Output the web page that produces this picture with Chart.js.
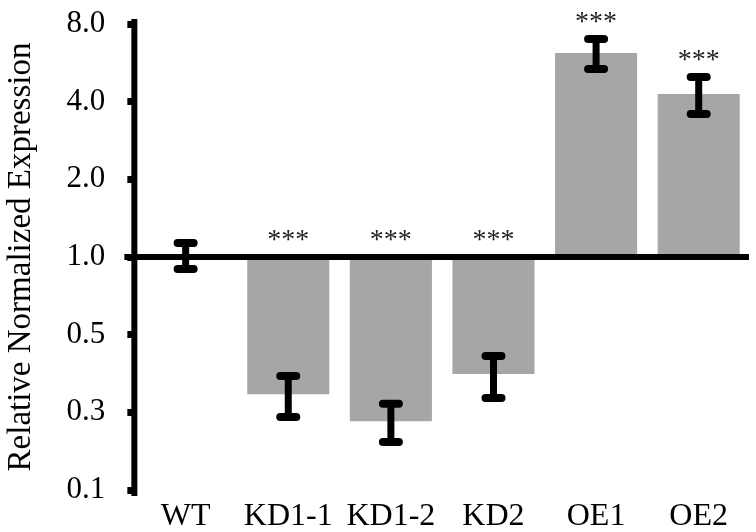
<!DOCTYPE html>
<html>
<head>
<meta charset="utf-8">
<title>Relative Normalized Expression</title>
<script src="https://cdn.jsdelivr.net/npm/chart.js@4/dist/chart.umd.min.js"></script>
<style>
    html, body { margin: 0; padding: 0; background: #fff; }
    #wrap { width: 756px; height: 532px; }
</style>
</head>
<body>
<div id="wrap"><canvas id="expr-chart" width="756" height="532"></canvas></div>
<script>
// data (floating bars start at 1.0)
const categories = ['WT', 'KD1-1', 'KD1-2', 'KD2', 'OE1', 'OE2'];
const expression = [1.0, 0.294, 0.231, 0.352, 6.18, 4.28];
const errLow = [0.898, 0.240, 0.192, 0.284, 5.35, 3.58];
const errHigh = [1.133, 0.346, 0.270, 0.413, 7.00, 4.99];
const stars = ['', '***', '***', '***', '***', '***'];

// y axis is log2 spaced, labels rounded to one decimal
const yTickValues = [0.125, 0.25, 0.5, 1, 2, 4, 8];
const yTickLabels = ['0.1', '0.3', '0.5', '1.0', '2.0', '4.0', '8.0'];

const SERIF = '"Liberation Serif", "Times New Roman", serif';
const BASELINE = 1;

// error bars, the 1.0 line and significance stars
const overlayPlugin = {
    id: 'overlay',
    afterDatasetsDraw(chart) {
        const ctx = chart.ctx;
        const area = chart.chartArea;
        const y = chart.scales.y;
        const meta = chart.getDatasetMeta(0);

        ctx.save();
        ctx.strokeStyle = '#000';

        // y axis line, a little longer than the chart area
        ctx.lineWidth = 6;
        ctx.lineCap = 'butt';
        ctx.beginPath();
        ctx.moveTo(area.left, area.top - 5);
        ctx.lineTo(area.left, area.bottom + 6);
        ctx.stroke();

        // horizontal line at 1.0
        const y1 = y.getPixelForValue(BASELINE);
        ctx.beginPath();
        ctx.moveTo(area.left - 10, y1);
        ctx.lineTo(area.right - 1, y1);
        ctx.stroke();

        categories.forEach((c, i) => {
            const cx = meta.data[i].x;
            const yLo = y.getPixelForValue(errLow[i]);
            const yHi = y.getPixelForValue(errHigh[i]);

            ctx.lineCap = 'butt';
            ctx.lineWidth = 7;
            ctx.beginPath();
            ctx.moveTo(cx, yHi);
            ctx.lineTo(cx, yLo);
            ctx.stroke();

            ctx.lineCap = 'round';
            ctx.lineWidth = 8;
            [yHi, yLo].forEach(py => {
                ctx.beginPath();
                ctx.moveTo(cx - 8, py);
                ctx.lineTo(cx + 8, py);
                ctx.stroke();
            });

            if (stars[i]) {
                const anchor = expression[i] < BASELINE ? y1 : yHi;
                ctx.fillStyle = '#222';
                ctx.font = '28px ' + SERIF;
                ctx.textAlign = 'center';
                ctx.textBaseline = 'alphabetic';
                ctx.fillText(stars[i], cx, anchor - 9);
            }
        });
        ctx.restore();
    }
};

new Chart(document.getElementById('expr-chart'), {
    type: 'bar',
    data: {
        labels: categories,
        datasets: [{
            data: expression.map(v => [BASELINE, v]),
            backgroundColor: '#a6a6a6',
            borderWidth: 0,
            barPercentage: 0.8,
            categoryPercentage: 1.0
        }]
    },
    options: {
        responsive: false,
        animation: false,
        layout: { padding: { left: 2, right: 6, top: 24, bottom: -12 } },
        plugins: {
            legend: { display: false },
            tooltip: { enabled: false }
        },
        scales: {
            x: {
                grid: { display: false, drawTicks: false },
                border: { display: false },
                ticks: {
                    color: '#000',
                    padding: 11,
                    font: { family: SERIF, size: 32, lineHeight: 1.0 }
                }
            },
            y: {
                type: 'logarithmic',
                min: 0.125,
                max: 8,
                afterBuildTicks: scale => {
                    scale.ticks = yTickValues.map(v => ({ value: v }));
                },
                // tick padding would otherwise push the top of the plot down
                afterFit: scale => {
                    scale.paddingTop = 18;
                    scale.paddingBottom = 18;
                },
                grid: {
                    drawOnChartArea: false,
                    drawTicks: true,
                    tickLength: 7,
                    tickWidth: 7,
                    tickColor: '#000'
                },
                border: { display: false },
                ticks: {
                    color: '#000',
                    padding: 22,
                    autoSkip: false,
                    font: { family: SERIF, size: 31 },
                    callback: (value, index) => yTickLabels[index]
                },
                title: {
                    display: true,
                    text: 'Relative Normalized Expression',
                    color: '#000',
                    padding: { top: 0, bottom: 3 },
                    font: { family: SERIF, size: 33 }
                }
            }
        }
    },
    plugins: [overlayPlugin]
});
</script>
</body>
</html>
